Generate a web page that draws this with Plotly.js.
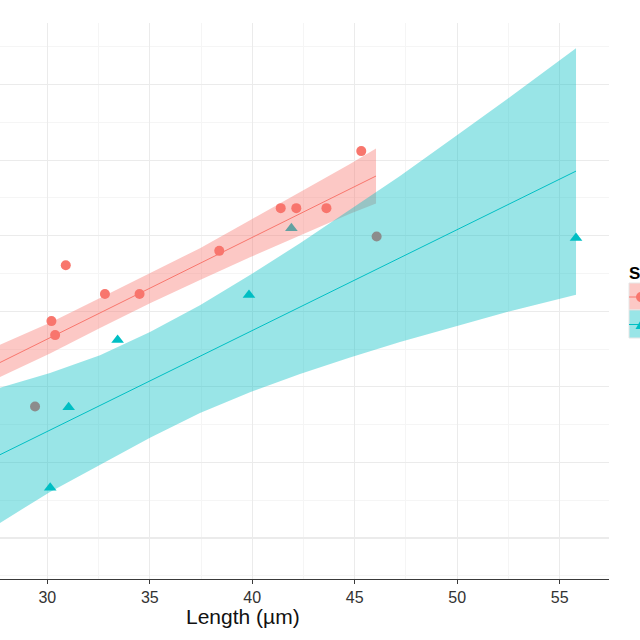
<!DOCTYPE html>
<html>
<head>
<meta charset="utf-8">
<script src="https://cdn.plot.ly/plotly-3.0.1.min.js"></script>
<style>html,body{margin:0;padding:0;background:#fff;overflow:hidden}#chart{width:640px;height:640px}</style>
</head>
<body>
<div id="chart"></div>
<script>
// ---- data ----
const speciesNames = ["Species A", "Species B"];

// Species A (red circles)
const redX = [30.20, 30.38, 30.90, 32.81, 34.50, 38.39, 41.39, 42.15, 43.62, 45.32];
const redY = [15.74, 15.37, 17.22, 16.46, 16.46, 17.60, 18.73, 18.73, 18.73, 20.24];

// Species B (teal triangles)
const tealX = [30.14, 31.04, 33.43, 39.84, 41.91, 55.80];
const tealY = [11.33, 13.46, 15.24, 16.43, 18.20, 17.94];

// Unassigned (grey circles)
const greyX = [29.40, 46.07];
const greyY = [13.48, 17.98];

// Fitted lines
const redFitX = [27.60, 46.04];
const redFitY = [14.62, 19.58];
const tealFitX = [27.60, 55.80];
const tealFitY = [12.18, 19.71];

// Confidence ribbons
const redBandX = [27.60, 30.13, 32.57, 35.01, 37.45, 39.89, 42.33, 44.77, 46.04];
const redBandUpper = [15.09, 15.70, 16.35, 17.01, 17.67, 18.41, 19.15, 19.90, 20.31];
const redBandLower = [14.24, 14.88, 15.56, 16.21, 16.83, 17.43, 18.01, 18.58, 18.85];

const tealBandX = [27.60, 30.13, 32.57, 35.01, 37.45, 39.89, 42.33, 44.77, 47.21, 49.99, 52.43, 55.80];
const tealBandUpper = [13.96, 14.37, 14.84, 15.45, 16.16, 16.96, 17.80, 18.68, 19.58, 20.66, 21.61, 22.96];
const tealBandLower = [10.37, 11.22, 11.93, 12.65, 13.31, 13.86, 14.34, 14.78, 15.19, 15.62, 15.98, 16.44];

const xTickVals = [30, 35, 40, 45, 50, 55];
const xTitle = "Length (µm)";
const legendTitle = "S";

// ---- styling ----
const RED = "#F8766D", TEAL = "#00BFC4", GREY = "#8C8C8C";
const RED_FILL = "rgba(248,118,109,0.4)", TEAL_FILL = "rgba(0,191,196,0.4)";
const FONT = "Liberation Sans, Arial, sans-serif";

const M = {l: 0, r: 31, t: 23, b: 61};
const W = 640 - M.l - M.r, H = 640 - M.t - M.b;
const px = v => (v - M.l) / W;
const py = v => (640 - M.b - v) / H;

function band(x, up, lo, fill) {
  return {
    x: x.concat(x.slice().reverse()),
    y: up.concat(lo.slice().reverse()),
    type: "scatter", mode: "lines", fill: "toself", fillcolor: fill,
    line: {width: 0, color: "rgba(0,0,0,0)"}, hoverinfo: "skip", showlegend: false
  };
}

const traces = [
  {x: tealX, y: tealY, type: "scatter", mode: "markers", name: speciesNames[1],
   marker: {symbol: "triangle-up", size: 11, color: TEAL}, showlegend: false},
  {x: redX, y: redY, type: "scatter", mode: "markers", name: speciesNames[0],
   marker: {symbol: "circle", size: 10, color: RED}, showlegend: false},
  band(redBandX, redBandUpper, redBandLower, RED_FILL),
  band(tealBandX, tealBandUpper, tealBandLower, TEAL_FILL),
  {x: redFitX, y: redFitY, type: "scatter", mode: "lines", line: {color: RED, width: 1}, showlegend: false},
  {x: tealFitX, y: tealFitY, type: "scatter", mode: "lines", line: {color: TEAL, width: 1}, showlegend: false},
  {x: greyX, y: greyY, type: "scatter", mode: "markers", name: "NA",
   marker: {symbol: "circle", size: 10, color: GREY}, showlegend: false}
];

// legend drawn by hand (cut off by the image edge)
const keyX0 = 629, keyX1 = 680, kc = 641;
const shapes = [
  {type: "rect", xref: "paper", yref: "paper", x0: px(keyX0), x1: px(keyX1), y0: py(310), y1: py(283),
   fillcolor: RED_FILL, line: {width: 1, color: "#E6E6E6"}},
  {type: "rect", xref: "paper", yref: "paper", x0: px(keyX0), x1: px(keyX1), y0: py(338), y1: py(310),
   fillcolor: TEAL_FILL, line: {width: 1, color: "#E6E6E6"}},
  {type: "line", xref: "paper", yref: "paper", x0: px(keyX0), x1: px(keyX1), y0: py(297), y1: py(297),
   line: {color: RED, width: 1}},
  {type: "line", xref: "paper", yref: "paper", x0: px(keyX0), x1: px(keyX1), y0: py(324.5), y1: py(324.5),
   line: {color: TEAL, width: 1}},
  {type: "circle", xref: "paper", yref: "paper", x0: px(kc - 5), x1: px(kc + 5), y0: py(302), y1: py(292),
   fillcolor: RED, line: {width: 0}},
  {type: "path", xref: "paper", yref: "paper",
   path: `M ${px(kc - 5.5)} ${py(329)} L ${px(kc + 5.5)} ${py(329)} L ${px(kc)} ${py(319.5)} Z`,
   fillcolor: TEAL, line: {width: 0}}
];

const layout = {
  width: 640, height: 640,
  margin: M,
  paper_bgcolor: "#FFFFFF", plot_bgcolor: "#FFFFFF",
  font: {family: FONT, color: "#333333"},
  showlegend: false,
  xaxis: {
    range: [27.69, 57.41], tickvals: xTickVals, ticktext: xTickVals.map(String),
    showgrid: true, gridcolor: "#EBEBEB", gridwidth: 1.2, zeroline: false,
    showline: true, linecolor: "#3A3A3A", linewidth: 1,
    ticks: "outside", ticklen: 4, tickcolor: "#3A3A3A", tickwidth: 1,
    tickfont: {family: FONT, size: 16, color: "#333333"},
    minor: {dtick: 2.5, tick0: 0, showgrid: true, gridcolor: "#F5F5F5", gridwidth: 1, ticks: ""}
  },
  yaxis: {
    range: [8.915, 23.63], dtick: 2, tick0: 0,
    showgrid: true, gridcolor: "#EBEBEB", gridwidth: 1.2, zeroline: false,
    showticklabels: false, showline: false, ticks: "",
    minor: {dtick: 1, tick0: 0, showgrid: true, gridcolor: "#F5F5F5", gridwidth: 1, ticks: ""}
  },
  shapes: shapes,
  annotations: [
    {xref: "paper", yref: "paper", x: px(627), y: py(273), xanchor: "left", yanchor: "middle",
     text: "<b>" + legendTitle + "</b>", showarrow: false, font: {family: FONT, size: 17, color: "#000000"}},
    {xref: "paper", yref: "paper", x: px(243), y: py(616), xanchor: "center", yanchor: "middle",
     text: xTitle, showarrow: false, font: {family: FONT, size: 21, color: "#111111"}}
  ]
};

Plotly.newPlot("chart", traces, layout, {staticPlot: true, displayModeBar: false});
</script>
</body>
</html>
